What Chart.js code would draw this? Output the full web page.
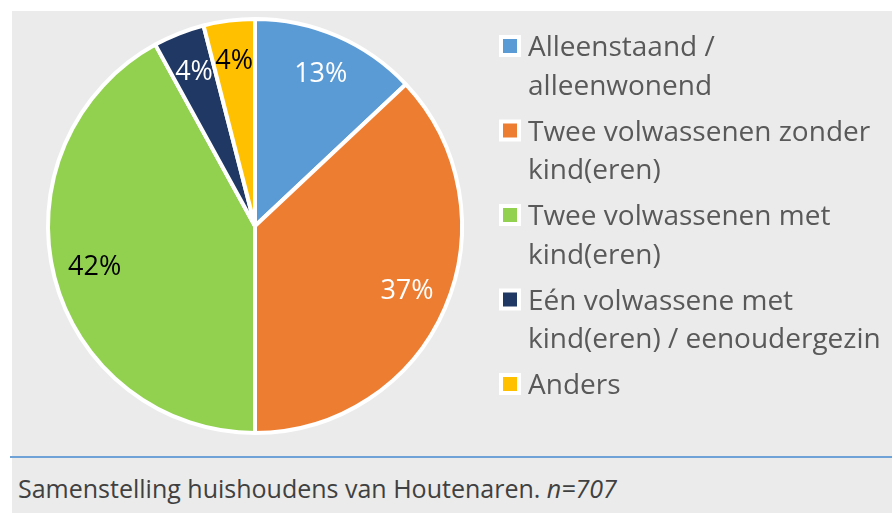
<!DOCTYPE html>
<html>
<head>
<meta charset="utf-8">
<script src="https://cdn.jsdelivr.net/npm/chart.js@4/dist/chart.umd.min.js"></script>
<style>
  html, body { margin: 0; padding: 0; background: #fff; }
  body { width: 892px; height: 513px; position: relative; overflow: hidden; font-family: "Open Sans", sans-serif; }
  #panel { position: absolute; left: 12px; top: 11px; width: 880px; height: 502px; background: #ebebeb; }
  #chartBox { position: absolute; left: 0; top: 0; width: 880px; height: 444px; }
  #rule { position: absolute; left: 10px; top: 456px; width: 882px; height: 2px; background: #6fa3d8; }
  #caption { position: absolute; left: 18px; top: 473px; font-size: 25px; line-height: 30px; color: #404040; white-space: nowrap; }
  #caption i { font-style: italic; }
</style>
</head>
<body>
<div id="panel">
  <div id="chartBox"><canvas id="pieChart"></canvas></div>
</div>
<div id="rule"></div>
<div id="caption">Samenstelling huishoudens van Houtenaren. <i>n=707</i></div>
<script>
// household types, legend text split over lines
const categories = [
  ['Alleenstaand /', 'alleenwonend'],
  ['Twee volwassenen zonder', 'kind(eren)'],
  ['Twee volwassenen met', 'kind(eren)'],
  ['Eén volwassene met', 'kind(eren) / eenoudergezin'],
  ['Anders']
];
const shares = [13, 37, 42, 4, 4];
const sliceColors = ['#5b9bd5', '#ed7d31', '#92d050', '#1f3864', '#ffc000'];
const labelColors = ['#ffffff', '#ffffff', '#000000', '#ffffff', '#000000'];

const FONT = '"Open Sans", sans-serif';

// percentage text inside each slice
const sliceLabels = {
  id: 'sliceLabels',
  afterDatasetsDraw(chart) {
    const ctx = chart.ctx;
    const meta = chart.getDatasetMeta(0);
    ctx.save();
    ctx.font = '27px ' + FONT;
    ctx.textAlign = 'center';
    ctx.textBaseline = 'middle';
    meta.data.forEach((arc, i) => {
      const mid = (arc.startAngle + arc.endAngle) / 2;
      const r = arc.outerRadius * 0.8;
      ctx.fillStyle = labelColors[i];
      ctx.fillText(shares[i] + '%', arc.x + Math.cos(mid) * r, arc.y + Math.sin(mid) * r);
    });
    ctx.restore();
  }
};

// legend on the right with wrapped entries
const sideLegend = {
  id: 'sideLegend',
  afterDraw(chart) {
    const ctx = chart.ctx;
    const boxX = 487, textX = 516;
    const lineStep = 38.5, itemGap = 46;
    let baseline = 45;
    ctx.save();
    ctx.font = '28px ' + FONT;
    ctx.textBaseline = 'alphabetic';
    ctx.textAlign = 'left';
    chart.data.labels.forEach((lines, i) => {
      ctx.fillStyle = '#ffffff';
      ctx.fillRect(boxX, baseline - 21, 22, 22);
      ctx.fillStyle = sliceColors[i];
      ctx.fillRect(boxX + 4, baseline - 17, 14, 14);
      ctx.fillStyle = '#595959';
      lines.forEach((line, j) => {
        ctx.fillText(line, textX, baseline + j * lineStep);
      });
      baseline += (lines.length - 1) * lineStep + itemGap;
    });
    ctx.restore();
  }
};

new Chart(document.getElementById('pieChart'), {
  type: 'pie',
  data: {
    labels: categories,
    datasets: [{
      data: shares,
      backgroundColor: sliceColors,
      borderColor: '#ffffff',
      borderWidth: 4,
      radius: 207
    }]
  },
  options: {
    responsive: true,
    maintainAspectRatio: false,
    animation: false,
    events: [],
    layout: { padding: { left: 0, right: 394, top: 0, bottom: 14 } },
    plugins: {
      legend: { display: false },
      tooltip: { enabled: false }
    }
  },
  plugins: [sliceLabels, sideLegend]
});
</script>
</body>
</html>
